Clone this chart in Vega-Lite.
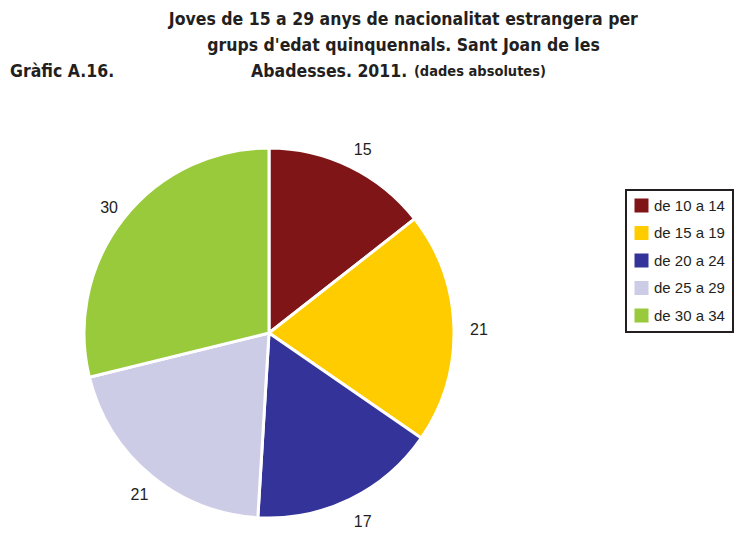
{
  "$schema": "https://vega.github.io/schema/vega-lite/v6.json",
  "width": 370,
  "height": 370,
  "autosize": "none",
  "padding": {"left": 84, "top": 148, "right": 290, "bottom": 17},
  "background": "white",
  "title": {
    "text": [
      "\u200b\u00a0\u00a0\u00a0\u00a0\u00a0\u00a0\u00a0\u00a0\u00a0\u00a0\u00a0\u00a0\u00a0\u00a0\u00a0\u00a0\u00a0\u00a0\u00a0\u00a0\u00a0\u00a0\u00a0\u00a0\u00a0\u00a0\u00a0\u00a0\u00a0Joves de 15 a 29 anys de nacionalitat estrangera per",
      "\u200b\u00a0\u00a0\u00a0\u00a0\u00a0\u00a0\u00a0\u00a0\u00a0\u00a0\u00a0\u00a0\u00a0\u00a0\u00a0\u00a0\u00a0\u00a0\u00a0\u00a0\u00a0\u00a0\u00a0\u00a0\u00a0\u00a0\u00a0\u00a0\u00a0\u00a0\u00a0\u00a0\u00a0\u00a0\u00a0\u00a0grups d'edat quinquennals. Sant Joan de les",
      "Gràfic A.16.\u00a0\u00a0\u00a0\u00a0\u00a0\u00a0\u00a0\u00a0\u00a0\u00a0\u00a0\u00a0\u00a0\u00a0\u00a0\u00a0\u00a0\u00a0\u00a0\u00a0\u00a0\u00a0\u00a0\u00a0\u00a0Abadesses. 2011."
    ],
    "subtitle": "\u200b\u00a0\u00a0\u00a0\u00a0\u00a0\u00a0\u00a0\u00a0\u00a0\u00a0\u00a0\u00a0\u00a0\u00a0\u00a0\u00a0\u00a0\u00a0\u00a0\u00a0\u00a0\u00a0\u00a0\u00a0\u00a0\u00a0\u00a0\u00a0\u00a0\u00a0\u00a0\u00a0\u00a0\u00a0\u00a0\u00a0\u00a0\u00a0\u00a0\u00a0\u00a0\u00a0\u00a0\u00a0\u00a0\u00a0\u00a0\u00a0\u00a0\u00a0\u00a0\u00a0\u00a0\u00a0\u00a0\u00a0\u00a0\u00a0\u00a0\u00a0\u00a0\u00a0\u00a0\u00a0\u00a0\u00a0\u00a0\u00a0\u00a0\u00a0\u00a0\u00a0\u00a0\u00a0\u00a0\u00a0\u00a0\u00a0\u00a0\u00a0\u00a0\u00a0\u00a0\u00a0\u00a0\u00a0\u00a0\u00a0\u00a0(dades absolutes)",
    "anchor": "start",
    "frame": "group",
    "dx": -74,
    "offset": 61,
    "font": "DejaVu Sans Condensed",
    "fontSize": 17.5,
    "fontWeight": "bold",
    "lineHeight": 26,
    "color": "#231f20",
    "subtitleFont": "DejaVu Sans Condensed",
    "subtitleFontSize": 14.5,
    "subtitleFontWeight": "bold",
    "subtitleColor": "#231f20",
    "subtitlePadding": -16
  },
  "data": {
    "values": [
      {"grup": "de 10 a 14", "n": 15},
      {"grup": "de 15 a 19", "n": 21},
      {"grup": "de 20 a 24", "n": 17},
      {"grup": "de 25 a 29", "n": 21},
      {"grup": "de 30 a 34", "n": 30}
    ]
  },
  "encoding": {
    "theta": {"field": "n", "type": "quantitative", "stack": true},
    "order": {"field": "grup", "type": "ordinal"},
    "color": {
      "field": "grup",
      "type": "nominal",
      "scale": {
        "domain": ["de 10 a 14", "de 15 a 19", "de 20 a 24", "de 25 a 29", "de 30 a 34"],
        "range": ["#801518", "#ffcc00", "#333399", "#ccccE6", "#99ca3c"]
      },
      "legend": {
        "title": null,
        "orient": "none",
        "legendX": 542,
        "legendY": 42,
        "symbolType": "square",
        "symbolSize": 196,
        "symbolStrokeWidth": 0,
        "labelFont": "Liberation Sans",
        "labelFontSize": 15,
        "labelColor": "#231f20",
        "labelOffset": 5,
        "strokeColor": "#231f20",
        "padding": 8,
        "rowPadding": 11.5
      }
    }
  },
  "layer": [
    {"mark": {"type": "arc", "outerRadius": 185, "stroke": "white", "strokeWidth": 3}},
    {
      "mark": {"type": "text", "radius": 207, "dx": 3, "dy": 3, "font": "Liberation Sans", "fontSize": 16},
      "encoding": {
        "text": {"field": "n", "type": "quantitative"},
        "color": {"value": "#231f20"},
        "detail": {"field": "grup", "type": "nominal"}
      }
    }
  ],
  "config": {"view": {"stroke": null}, "legend": {"strokeWidth": 2}}
}
